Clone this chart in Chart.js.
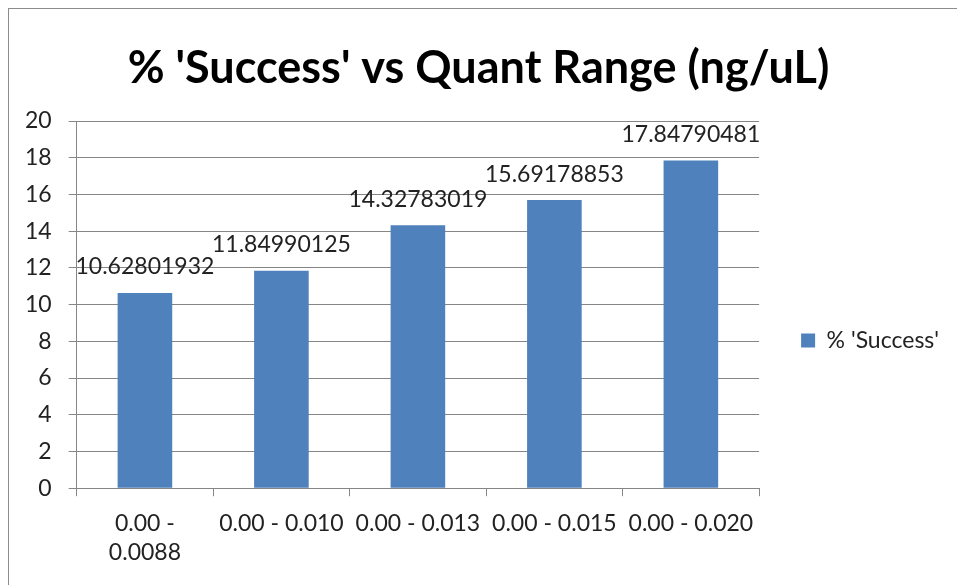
<!DOCTYPE html>
<html>
<head>
<meta charset="utf-8">
<script src="https://cdn.jsdelivr.net/npm/chart.js@4.4.1/dist/chart.umd.min.js"></script>
<style>
  html, body { margin: 0; padding: 0; background: #fff; overflow: hidden; }
  #frame { position: absolute; left: 8px; top: 8px; width: 1000px; height: 1000px;
           border-left: 1px solid #8c8c8c; border-top: 1px solid #8c8c8c; }
  #wrap { position: absolute; left: 0; top: 0; width: 957px; height: 585px; }
</style>
</head>
<body>
<div id="frame"></div>
<div id="wrap"><canvas id="chart" width="957" height="585"></canvas></div>
<script>
    const categories = [['0.00 -', '0.0088'], '0.00 - 0.010', '0.00 - 0.013', '0.00 - 0.015', '0.00 - 0.020'];
    const successPct = [10.62801932, 11.84990125, 14.32783019, 15.69178853, 17.84790481];
    const yMin = 0;
    const yMax = 20;
    const yStep = 2;

    const fontFamily = 'Lato, "Open Sans", sans-serif';
    const gridGray = '#868686';
    const textColor = '#222';

    // value labels above each bar
    const barValueLabels = {
      id: 'barValueLabels',
      afterDatasetsDraw(chart) {
        const ctx = chart.ctx;
        const meta = chart.getDatasetMeta(0);
        ctx.save();
        ctx.font = '23px ' + fontFamily;
        ctx.fillStyle = textColor;
        ctx.textAlign = 'center';
        ctx.textBaseline = 'middle';
        meta.data.forEach((bar, i) => {
          ctx.fillText(String(successPct[i]), bar.x, bar.y - 26);
        });
        ctx.restore();
      }
    };

    const chart = new Chart(document.getElementById('chart'), {
      type: 'bar',
      data: {
        labels: categories,
        datasets: [{
          label: "% 'Success'",
          data: successPct,
          backgroundColor: '#4F81BD',
          borderWidth: 0,
          categoryPercentage: 1,
          barPercentage: 0.4
        }]
      },
      options: {
        responsive: false,
        animation: false,
        layout: { padding: { left: 8, right: 8, top: 20, bottom: 5 } },
        plugins: {
          title: {
            display: true,
            text: "% 'Success' vs Quant Range (ng/uL)",
            color: '#000',
            font: { family: fontFamily, size: 45, weight: 'bold', lineHeight: 1.2 },
            padding: { top: 21, bottom: 26 }
          },
          legend: {
            position: 'right',
            fullSize: false,
            title: { display: true, text: '', font: { size: 10 }, padding: { top: 0, bottom: 60 } },
            labels: {
              boxWidth: 14,
              boxHeight: 14,
              padding: 42,
              color: textColor,
              font: { family: fontFamily, size: 23 }
            }
          },
          tooltip: { enabled: false }
        },
        scales: {
          x: {
            grid: { display: true, drawOnChartArea: false, offset: true, tickLength: 8, color: gridGray },
            border: { color: gridGray },
            ticks: {
              autoSkip: false, maxRotation: 0, padding: 12, color: textColor,
              font: { family: fontFamily, size: 23, lineHeight: 1.3 }
            }
          },
          y: {
            min: yMin,
            max: yMax,
            grid: { color: gridGray, tickLength: 8 },
            border: { color: gridGray },
            ticks: {
              stepSize: yStep, padding: 17, color: textColor,
              font: { family: fontFamily, size: 23 }
            }
          }
        }
      },
      plugins: [barValueLabels]
    });
</script>
</body>
</html>
